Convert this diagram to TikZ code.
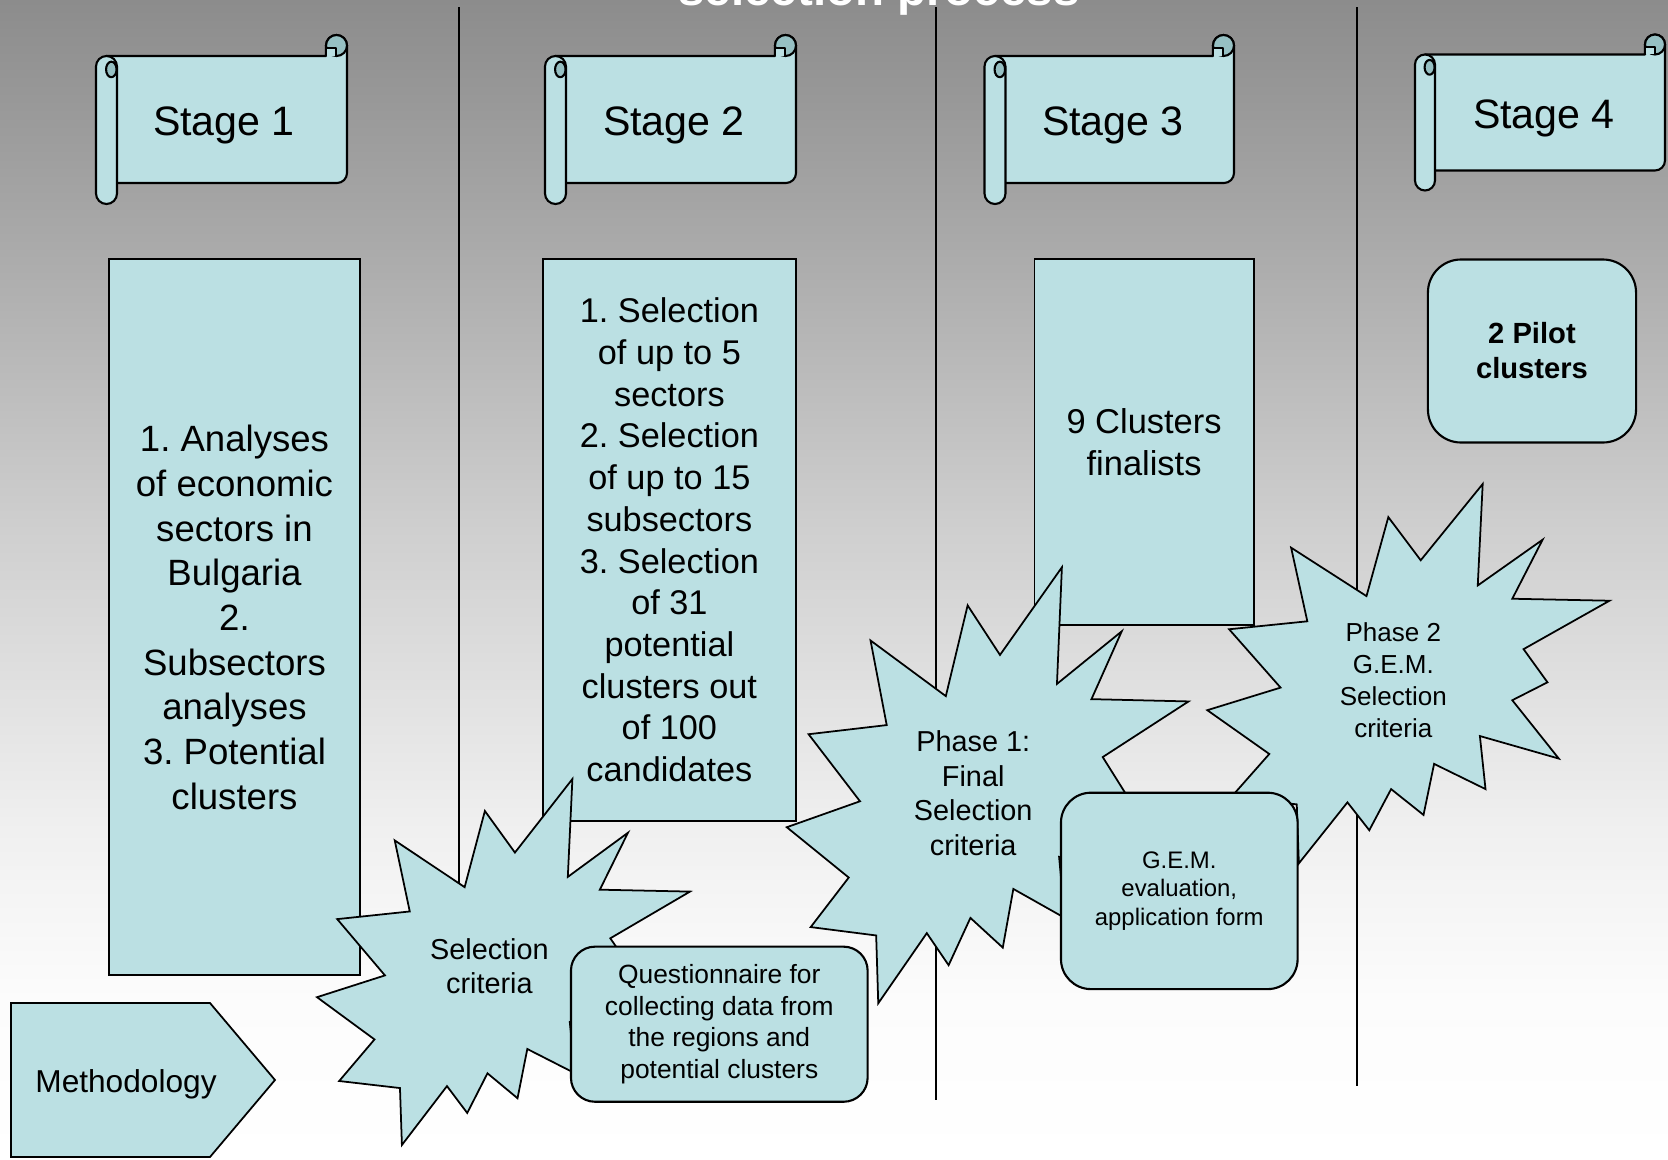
\documentclass[tikz,border=0pt]{standalone}
\usepackage{fontspec}
\setmainfont{Liberation Sans}
\frenchspacing
\definecolor{fillc}{RGB}{187,224,227}
\definecolor{darkc}{RGB}{150,192,195}
\definecolor{bgA}{RGB}{140,140,140}
\definecolor{bgB}{RGB}{168,168,168}
\definecolor{bgC}{RGB}{207,207,207}
\definecolor{bgD}{RGB}{240,240,240}
\definecolor{bgE}{RGB}{252,252,252}
\definecolor{bgF}{RGB}{255,255,255}
\pgfdeclareverticalshading{bgshade}{100bp}{color(0bp)=(bgF); color(25bp)=(bgF); color(31.9bp)=(bgE); color(39.22bp)=(bgD); color(52.16bp)=(bgC); color(65.09bp)=(bgB); color(75bp)=(bgA); color(100bp)=(bgA)}
\tikzset{
  scrollline/.style={draw=black, line width=0.6pt, line join=round},
  boxsty/.style={draw=black, fill=fillc, line width=0.5pt, inner sep=0pt, align=center},
  rboxsty/.style={draw=black, fill=fillc, line width=0.6pt, inner sep=0pt, align=center},
  sealsty/.style={draw=black, fill=fillc, line width=0.5pt, line join=miter},
  divline/.style={draw=black, line width=0.55pt},
  stagetext/.style={anchor=base, font=\fontsize{11.7}{14}\selectfont, inner sep=0pt},
}
% scroll: left, top, right, bottom, roll width
\newcommand{\drawscroll}[5]{%
  \pgfmathsetmacro{\scL}{#1}\pgfmathsetmacro{\scT}{#2}%
  \pgfmathsetmacro{\scR}{#3}\pgfmathsetmacro{\scB}{#4}%
  \pgfmathsetmacro{\scW}{#5}\pgfmathsetmacro{\scH}{#5/2}%
  \pgfmathsetmacro{\scK}{0.5523*\scH}%
  \pgfmathsetmacro{\scC}{\scT+\scH}%
  \pgfmathsetmacro{\scX}{\scR-\scH}%
  \pgfmathsetmacro{\scTop}{\scT+\scW}%
  \pgfmathsetmacro{\scBot}{\scB-\scW}%
  \pgfmathsetmacro{\scRpt}{\scH*0.28453}%
  \draw[scrollline, fill=fillc] ({\scL+\scH},\scTop) -- ({\scR-\scW},\scTop) -- ({\scR-\scW},\scC)
     .. controls ({\scR-\scW},{\scC-\scK}) and ({\scX-\scK},\scT) .. (\scX,\scT)
     .. controls ({\scX+\scK},\scT) and (\scR,{\scC-\scK}) .. (\scR,\scC)
     -- (\scR,{\scBot-10}) .. controls (\scR,{\scBot-4.5}) and ({\scR-4.5},\scBot) .. ({\scR-10},\scBot)
     -- ({\scL+\scH},\scBot) -- cycle;
  \draw[scrollline, fill=darkc] (\scX,\scC) circle[radius=\scH];
  \fill[fillc] ({\scR-\scW+0.6},{\scT+0.62*\scW}) rectangle ({\scR-0.52*\scW},{\scTop-0.4});
  \draw[scrollline] ({\scR-\scW},{\scT+0.62*\scW}) -- ({\scR-0.52*\scW},{\scT+0.62*\scW}) -- ({\scR-0.52*\scW},\scTop);
  \draw[scrollline, fill=fillc, rounded corners=\scRpt pt] (\scL,\scTop) rectangle ({\scL+\scW},\scB);
  \draw[scrollline, fill=darkc] ({\scL+0.73*\scW},{\scT+1.64*\scW}) ellipse[x radius={0.25*\scW}, y radius={0.37*\scW}];
}
% explosion: x0, y0, width, height (shape coordinates in 0..2160)
\newcommand{\drawseal}[4]{%
  \begin{scope}[shift={(#1,#2)}, xscale=#3/2160, yscale=#4/2160]
  \draw[sealsty] (1146.2,434.2) -- (1479,0) -- (1452.5,577.7) -- (1800.7,317.2) -- (1638,653.2) -- (2160,664.5) -- (1698.5,940.2) -- (1827,1129) -- (1638,1231) -- (1887.7,1563.2) -- (1464,1435) -- (1494.2,1737) -- (1218,1593.5) -- (1161.2,1884.2) -- (987.2,1737) -- (870,1971.2) -- (752.7,1812.5) -- (491.7,2160) -- (480.5,1824) -- (128.5,1782.5) -- (333,1537) -- (0,1287.7) -- (393.5,1159.2) -- (117.2,827) -- (537.2,781.7) -- (450.2,362.5) -- (855,638.2) -- (972.2,188.7) -- cycle;
  \end{scope}}
\begin{document}
\begin{tikzpicture}[x=0.01cm, y=-0.01cm]
\useasboundingbox (0,0) rectangle (1668,1160);
\clip (0,0) rectangle (1668,1160);
\shade[shading=bgshade] (0,0) rectangle (1668,1160);

% title (cut off at top, as in the reference)
\node[anchor=base, text=white, font=\bfseries\fontsize{13.5}{16}\selectfont, inner sep=0pt] (title) at (879,5) {selection process};

% dividers
\coordinate (v1t) at (459,7); \coordinate (v1b) at (459,1050);
\coordinate (v2t) at (936,7); \coordinate (v2b) at (936,1100);
\coordinate (v3t) at (1357,7); \coordinate (v3b) at (1357,1086);
\draw[divline] (v1t) -- (v1b);
\draw[divline] (v2t) -- (v2b);
\draw[divline] (v3t) -- (v3b);

% scrolls
\drawscroll{96}{35}{347}{204}{21}
\drawscroll{545}{35}{796}{204}{21}
\drawscroll{984.5}{35}{1234}{204}{21}
\drawscroll{1415}{34.5}{1665}{190.5}{20}
\node[stagetext] (st1) at (224,135) {Stage 1};
\node[stagetext] (st2) at (674,135) {Stage 2};
\node[stagetext] (st3) at (1113,135) {Stage 3};
\node[stagetext] (st4) at (1544,128.3) {Stage 4};

% boxes
\node[boxsty, minimum width=2.51cm, minimum height=7.155cm, font=\fontsize{10.4}{12.7}\selectfont] (b1) at (234.5,617.3)
  {1. Analyses\\of economic\\sectors in\\Bulgaria\\2.\\Subsectors\\analyses\\3. Potential\\clusters};
\node[boxsty, minimum width=2.526cm, minimum height=5.61cm, font=\fontsize{9.75}{11.86}\selectfont] (b2) at (669.4,540)
  {1. Selection\\of up to 5\\sectors\\2. Selection\\of up to 15\\subsectors\\3. Selection\\of 31\\potential\\clusters out\\of 100\\candidates};
\node[boxsty, minimum width=2.192cm, minimum height=3.651cm, font=\fontsize{9.8}{12.1}\selectfont] (b3) at (1144.1,442)
  {9 Clusters\\finalists};
\node[rboxsty, rounded corners=0.33cm, minimum width=2.08cm, minimum height=1.829cm, font=\bfseries\fontsize{8.3}{9.96}\selectfont] (b4) at (1532,351)
  {2 Pilot\\clusters};

% methodology
\draw[boxsty] (11,1003) -- (210,1003) -- (275,1080) -- (210,1157) -- (11,1157) -- cycle;
\node[anchor=base, font=\fontsize{9}{10.8}\selectfont, inner sep=0pt] (meth) at (126,1092) {Methodology};

% explosions
\drawseal{1207.3}{484}{402.2}{379.4}
\node[font=\fontsize{7.4}{9.1}\selectfont, align=center, inner sep=0pt] (ph2) at (1393.3,680.3) {Phase 2\\G.E.M.\\Selection\\criteria};
\drawseal{786.8}{567.3}{401.8}{436}
\node[font=\fontsize{8.2}{9.8}\selectfont, align=center, inner sep=0pt] (ph1) at (973.2,793.3) {Phase 1:\\Final\\Selection\\criteria};
\drawseal{317}{779}{373}{366}
\node[font=\fontsize{8.2}{9.7}\selectfont, align=center, inner sep=0pt] (selc) at (489.4,966.3) {Selection\\criteria};

% rounded boxes
\node[rboxsty, rounded corners=0.24cm, minimum width=2.965cm, minimum height=1.55cm, font=\fontsize{7.5}{9}\selectfont] (quest) at (719.3,1024.2)
  {Questionnaire for\\collecting data from\\the regions and\\potential clusters};
\node[rboxsty, rounded corners=0.3cm, minimum width=2.365cm, minimum height=1.963cm, font=\fontsize{6.8}{8.1}\selectfont] (gem) at (1179.3,890.9)
  {G.E.M.\\evaluation,\\application form};
\end{tikzpicture}
\end{document}
